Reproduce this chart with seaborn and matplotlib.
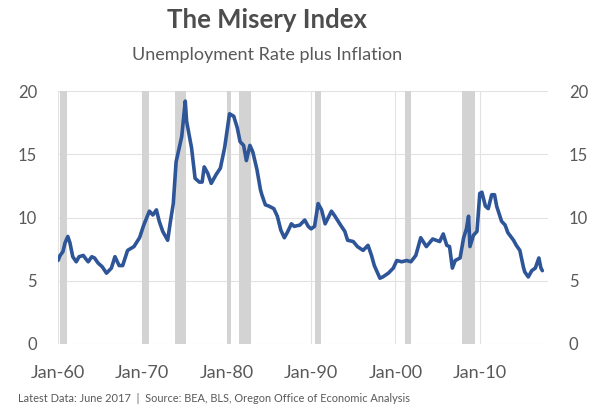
#!/usr/bin/env python3
"""
The Misery Index: unemployment rate plus inflation, with recession shading.
"""

import pandas as pd
import matplotlib
matplotlib.use("Agg")
import matplotlib.pyplot as plt
import matplotlib.dates as mdates
import seaborn as sns

# values
months = [
    "1960-01", "1960-04", "1960-08", "1960-11", "1961-03", "1961-06", "1961-10",
    "1962-03", "1962-07", "1963-01", "1963-05", "1963-08", "1964-01", "1964-05",
    "1964-10", "1965-04", "1965-10", "1966-05", "1966-10", "1967-04", "1967-09",
    "1968-04", "1969-01", "1969-09", "1970-03", "1970-11", "1971-04", "1971-09",
    "1972-01", "1972-06", "1973-01", "1973-05", "1973-09", "1974-01", "1974-09",
    "1975-02", "1975-04", "1975-11", "1976-04", "1976-10", "1977-02", "1977-05",
    "1977-10", "1978-03", "1978-10", "1979-04", "1979-10", "1980-05", "1980-11",
    "1981-04", "1981-08", "1982-01", "1982-05", "1982-10", "1983-02", "1983-05",
    "1983-08", "1984-01", "1984-03", "1984-08", "1985-01", "1985-08", "1986-01",
    "1986-06", "1986-11", "1987-04", "1987-09", "1988-01", "1988-09", "1989-04",
    "1989-09", "1990-01", "1990-06", "1990-11", "1991-04", "1991-09", "1992-06",
    "1992-11", "1993-07", "1994-01", "1994-05", "1995-01", "1995-07", "1996-03",
    "1996-10", "1997-03", "1997-07", "1998-03", "1998-07", "1999-03", "1999-10",
    "2000-03", "2000-10", "2001-05", "2001-11", "2002-06", "2003-01", "2003-09",
    "2004-06", "2005-04", "2005-09", "2006-02", "2006-06", "2006-10", "2007-02",
    "2007-09", "2008-02", "2008-06", "2008-09", "2008-11", "2009-04", "2009-09",
    "2010-01", "2010-04", "2010-09", "2011-01", "2011-06", "2011-10", "2012-01",
    "2012-08", "2013-01", "2013-05", "2014-01", "2014-05", "2014-10", "2015-03",
    "2015-05", "2015-10", "2016-03", "2016-08", "2017-01", "2017-04", "2017-06",
]
misery = [
    6.6, 7.0, 7.3, 8.0, 8.5, 8.0, 6.9,
    6.5, 6.9, 7.0, 6.7, 6.5, 6.9, 6.8,
    6.4, 6.1, 5.6, 6.0, 6.9, 6.2, 6.2,
    7.4, 7.7, 8.4, 9.4, 10.5, 10.2, 10.6,
    9.7, 8.9, 8.2, 9.7, 11.1, 14.4, 16.4,
    19.2, 17.6, 15.5, 13.1, 12.8, 12.8, 14.0,
    13.5, 12.7, 13.4, 13.9, 15.5, 18.2, 18.0,
    17.1, 16.0, 15.7, 14.5, 15.7, 15.2, 14.5,
    13.8, 12.2, 11.8, 11.0, 10.9, 10.7, 10.1,
    9.0, 8.4, 8.9, 9.5, 9.3, 9.4, 9.8,
    9.3, 9.1, 9.3, 11.1, 10.6, 9.5, 10.5,
    10.1, 9.4, 8.9, 8.2, 8.1, 7.7, 7.4,
    7.8, 7.0, 6.2, 5.2, 5.3, 5.6, 6.0,
    6.6, 6.5, 6.6, 6.5, 7.0, 8.4, 7.7,
    8.3, 8.1, 8.7, 7.8, 7.7, 6.0, 6.6,
    6.8, 8.4, 9.1, 10.1, 7.7, 8.6, 8.9,
    11.9, 12.0, 10.9, 10.7, 11.8, 11.8, 10.9,
    9.7, 9.4, 8.8, 8.2, 7.8, 7.4, 6.1,
    5.7, 5.3, 5.8, 6.0, 6.8, 6.0, 5.8,
]

# NBER recessions
rec_start = ["1960-04", "1969-12", "1973-11", "1980-01", "1981-07", "1990-07", "2001-03", "2007-12"]
rec_end = ["1961-02", "1970-11", "1975-03", "1980-07", "1982-11", "1991-03", "2001-11", "2009-06"]

y_ticks = [0, 5, 10, 15, 20]

TEXT = "#595959"
LINE = "#2E5598"
GRID = "#e2e2e2"
BAND = "#d3d3d3"

sns.set_style("white")
plt.rcParams["font.family"] = ["Lato", "DejaVu Sans"]

df = pd.DataFrame({"date": pd.to_datetime(months), "misery": misery})

fig = plt.figure(figsize=(6.0, 4.08), dpi=100)
ax = fig.add_axes([58 / 600, 1 - 344 / 408, 490 / 600, 253 / 408])

for s, e in zip(rec_start, rec_end):
    ax.axvspan(pd.Timestamp(s), pd.Timestamp(e), color=BAND, lw=0, zorder=1)

sns.lineplot(data=df, x="date", y="misery", color=LINE, linewidth=2.6, ax=ax, zorder=3)

ax.set_xlim(pd.Timestamp("1960-01-01"), pd.Timestamp("2018-02-01"))
ax.set_ylim(0, 20)
ax.set_yticks(y_ticks)
ax.xaxis.set_major_locator(mdates.YearLocator(10))
ax.xaxis.set_major_formatter(mdates.DateFormatter("%b-%y"))

ax.grid(True, color=GRID, linewidth=0.8, zorder=0)
ax.set_axisbelow(True)
for sp in ax.spines.values():
    sp.set_visible(False)

ax.tick_params(axis="x", length=5, width=0.8, color=GRID, labelsize=13,
               labelcolor=TEXT, pad=10)
ax.tick_params(axis="y", length=0, labelsize=12, labelcolor=TEXT, pad=15,
               labelleft=True, labelright=True)
ax.set_xlabel("")
ax.set_ylabel("")

fig.text(267 / 600, 1 - 20 / 408, "The Misery Index", ha="center", va="center",
         fontsize=18.5, fontweight="bold", color="#4d4d4d")
fig.text(267 / 600, 1 - 55 / 408, "Unemployment Rate plus Inflation", ha="center",
         va="center", fontsize=13, color=TEXT)
fig.text(18 / 600, 1 - 399 / 408,
         "Latest Data: June 2017  |  Source: BEA, BLS, Oregon Office of Economic Analysis",
         ha="left", va="center", fontsize=7.9, color=TEXT)

fig.savefig("out.png", dpi=100)
plt.close(fig)
